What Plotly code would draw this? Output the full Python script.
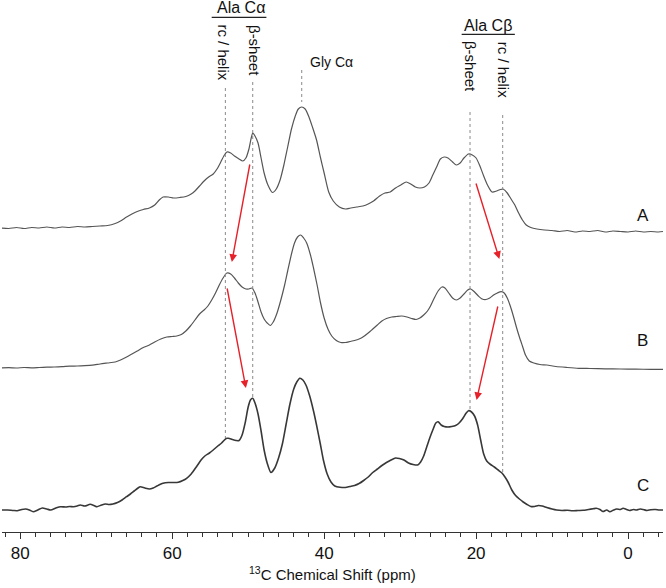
import plotly.graph_objects as go

# ---------------- data ----------------
ppm_A = [82.6, 81.5, 80.5, 79.5, 78.5, 77.5, 76.5, 75.5, 74.5, 73.5, 72.5, 71.5, 70.5, 69.5, 68.5,
         67.5, 66.8, 66.0, 65.3, 64.6, 63.8, 63.0, 62.3, 61.7, 61.2, 60.5, 59.8, 59.0, 58.2, 57.5,
         57.0, 56.4, 55.8, 55.2, 54.6, 54.1, 53.6, 53.2, 52.8, 52.3, 51.8, 51.2, 50.7, 50.3, 49.9,
         49.6, 49.4, 49.1, 48.7, 48.3, 47.9, 47.4, 46.8, 46.3, 45.8, 45.3, 44.8, 44.3, 43.8, 43.4,
         42.95, 42.5, 42.0, 41.5, 41.0, 40.5, 40.0, 39.4, 38.8, 38.0, 37.2, 36.5, 35.7, 34.9, 34.2,
         33.5, 32.7, 32.0, 31.3, 30.6, 29.9, 29.2, 28.6, 28.0, 27.4, 26.8, 26.2, 25.7, 25.2, 24.7,
         24.2, 23.7, 23.1, 22.6, 22.1, 21.6, 21.0, 20.5, 20.0, 19.5, 19.0, 18.5, 17.9, 17.3, 16.8,
         16.4, 15.9, 15.4, 14.9, 14.4, 13.9, 13.4, 12.8, 12.0, 11.0, 10.0, 9.0, 8.0, 7.0, 6.0,
         5.0, 4.0, 3.0, 2.0, 1.0, 0.0, -1.0, -2.0, -3.0, -4.0, -4.6]
int_A = [1, 0.5, 1.5, 0.5, 1.5, 1, 2, 1, 2, 1.5, 2.5, 2, 2.5, 3, 3.5,
         5.5, 8, 12, 15, 17.5, 19.5, 21, 24, 29, 32, 32, 31, 31.5, 32.5, 35,
         38, 43, 48, 52, 55, 60, 67, 73, 77, 76, 73, 70, 68, 71, 80,
         91, 96, 93, 86, 71, 56, 44, 36.5, 40, 49, 64, 82, 100, 113, 120,
         122, 120, 112, 101, 89, 72, 56, 37, 28, 22, 20, 21, 22, 23, 25,
         28, 33, 36, 37, 41, 44, 47, 45, 42, 41, 42, 46, 54, 62, 70,
         72, 71, 67, 64, 66, 71, 75, 74, 71, 63, 53, 44, 37, 38, 39.5,
         39.7, 36, 30, 24, 16, 9, 4, 1.5, 0, -1, -1.5, -2.5, -1.5, -3, -2,
         -2.5, -1.5, -3, -2, -2.5, -3, -2, -3, -2.5, -3, -2.5]

ppm_B = [82.6, 81.5, 80.5, 79.5, 78.5, 77.5, 76.5, 75.5, 74.5, 73.5, 72.5, 71.5, 70.5, 69.5, 68.5,
         67.5, 66.8, 66.0, 65.3, 64.6, 63.8, 63.0, 62.3, 61.5, 60.7, 60.0, 59.4, 58.8, 58.2, 57.6,
         57.0, 56.4, 55.8, 55.3, 54.8, 54.3, 53.8, 53.3, 52.8, 52.3, 51.8, 51.3, 50.8, 50.3, 49.9,
         49.5, 49.1, 48.7, 48.3, 47.9, 47.5, 47.1, 46.7, 46.2, 45.7, 45.2, 44.8, 44.3, 43.9, 43.5,
         43.1, 42.7, 42.3, 41.8, 41.4, 40.9, 40.5, 40.0, 39.5, 39.0, 38.4, 37.8, 37.2, 36.6, 36.0,
         35.4, 34.8, 34.2, 33.6, 33.0, 32.4, 31.8, 31.1, 30.5, 29.8, 29.1, 28.5, 27.9, 27.4, 26.9,
         26.4, 26.0, 25.5, 25.0, 24.5, 24.1, 23.6, 23.1, 22.6, 22.1, 21.6, 21.1, 20.7, 20.2, 19.7,
         19.2, 18.7, 18.2, 17.7, 17.2, 16.7, 16.3, 15.9, 15.5, 15.1, 14.7, 14.3, 13.9, 13.5, 13.0,
         12.4, 11.6, 10.7, 9.5, 8.0, 6.5, 5.0, 3.0, 1.0, -1.0, -3.0, -4.6]
int_B = [0, 0.3, 0, 0.5, 0.2, 0.5, 0.8, 1, 1.3, 1.8, 2, 2.3, 2.8, 4, 5,
         6, 8, 11, 14, 17, 20.5, 23, 26, 29, 31, 31.5, 32, 33.5, 37, 42,
         48, 54, 58, 62, 68, 75, 83, 90, 95, 94, 90, 85, 81, 79, 79,
         80, 75, 66, 56, 49, 45, 42.5, 46, 55, 68, 83, 97, 114, 125, 131,
         133, 130, 125, 113, 100, 82, 66, 50, 39, 32, 27.5, 25.5, 25.5, 26.5, 27.5,
         29, 31.5, 35, 39, 43, 47, 49.5, 51, 51.5, 52, 51, 49.5, 48.5, 50, 53,
         57, 62, 70, 77, 81, 80, 75, 70, 68, 70, 74, 78, 79, 76, 72,
         69, 68.5, 70, 73, 75, 76.3, 75, 70, 62, 52, 41, 31, 22, 13, 7,
         5, 3.5, 3, 1.5, 0.5, -0.3, -0.5, -0.8, -1, -1.2, -1.3, -1.3]

ppm_C = [82.6, 81.7, 80.9, 80.4, 79.8, 79.3, 78.8, 78.3, 77.7, 77.1, 76.5, 76.0, 75.3, 74.7, 74.0,
         73.5, 73.0, 72.5, 72.1, 71.5, 70.8, 70.3, 69.9, 69.3, 68.8, 68.3, 67.8, 67.2, 66.6, 66.0,
         65.5, 65.0, 64.5, 64.2, 63.6, 63.0, 62.5, 62.0, 61.2, 60.5, 59.8, 59.2, 58.6, 58.1, 57.5,
         56.8, 56.2, 55.7, 55.1, 54.6, 54.0, 53.5, 52.9, 52.6, 52.1, 51.6, 51.2, 50.8, 50.4, 50.0,
         49.7, 49.4, 49.1, 48.7, 48.3, 47.9, 47.5, 47.0, 46.5, 46.0, 45.5, 45.0, 44.5, 44.0, 43.6,
         43.2, 42.8, 42.4, 41.9, 41.4, 41.0, 40.5, 40.1, 39.6, 39.1, 38.6, 37.9, 37.2, 36.6, 36.0,
         35.4, 34.8, 34.2, 33.6, 33.0, 32.4, 31.8, 31.2, 30.6, 30.1, 29.5, 28.9, 28.3, 27.7, 27.3,
         26.9, 26.5, 26.1, 25.7, 25.3, 25.0, 24.6, 24.2, 23.7, 23.2, 22.7, 22.3, 21.8, 21.3, 21.0,
         20.6, 20.2, 19.8, 19.4, 19.0, 18.6, 18.1, 17.6, 17.1, 16.6, 16.2, 15.8, 15.3, 14.8, 14.3,
         13.8, 13.3, 12.8, 12.3, 11.8, 11.3, 10.7, 10.0, 9.4, 8.7, 8.0, 7.3, 6.6, 5.9, 5.2,
         4.6, 4.2, 3.7, 3.3, 2.8, 2.4, 1.9, 1.5, 1.0, 0.66, 0.2, -0.2, -0.7, -1.1, -1.6,
         -2.0, -2.5, -3.0, -3.6, -4.1, -4.6]
int_C = [0, 0, -0.5, -0.7, 0.5, 1, 0, -1.7, 0, 2, 1, 0, 2, 3.3, 3,
         3.5, 3.3, 4, 5, 4, 5.7, 4.5, 3.3, 5, 6, 5.5, 6, 7.5, 10, 13.3,
         16, 19, 22, 23.3, 22, 21, 22, 24, 26.7, 27.5, 27.5, 27.8, 29.5, 31.7, 36,
         43.3, 50, 54, 57, 60, 64, 67, 71.5, 71.7, 70.5, 69.5, 69.5, 75, 87, 103,
         110, 111.7, 107, 96, 79, 60, 47, 37.5, 42, 52, 66, 86, 106, 121, 128,
         131.7, 130, 125, 114, 99, 85, 66, 50, 36, 28, 24, 22.7, 22.5, 23.5, 24.5,
         26.5, 29.5, 33, 37.5, 41, 44.5, 47.5, 50, 52, 51.5, 50, 47, 45.5, 45, 48,
         54, 63, 72, 80, 87, 88.3, 85, 83.5, 83, 83.5, 84.5, 86.5, 91, 97, 99.3,
         98, 94, 85, 70, 56, 49, 45.5, 43, 40, 37, 33, 28, 20, 14.5, 11,
         8, 5.5, 3.5, 3.5, 4.5, 4, 2.5, 1, 0, -0.5, -0.3, -0.8, -0.5, -0.3, 0.5,
         1.2, 1.7, 0.5, -1.5, 0, -1.7, 0, 1, 0.5, 1.7, 0.5, -0.5, 0.5, 0, 1,
         0.5, -0.5, 0.3, 0.5, 0, 0]

spectrum_labels = ["A", "B", "C"]

# peak assignments (ppm)
assign_ppm = [53.0, 49.4, 42.95, 20.8, 16.5]
assign_text = ["rc / helix", "β-sheet", "Gly Cα", "β-sheet", "rc / helix"]
group_text = ["Ala Cα", "Ala Cβ"]

tick_vals = [80, 60, 40, 20, 0]
tick_text = ["80", "60", "40", "20", "0"]
x_title = "<sup>13</sup>C Chemical Shift (ppm)"

# ---------------- layout constants ----------------
OFFSETS = {"A": 281, "B": 142, "C": 0}
FONT = "Liberation Sans, Arial, sans-serif"
RED = "#e62129"

fig = go.Figure()
spec = {"A": (ppm_A, int_A), "B": (ppm_B, int_B), "C": (ppm_C, int_C)}
styles = {"A": ("#555555", 1.2), "B": ("#555555", 1.2), "C": ("#383838", 1.6)}
for lab in spectrum_labels:
    px, iy = spec[lab]
    col, w = styles[lab]
    fig.add_trace(go.Scatter(
        x=px, y=[v + OFFSETS[lab] for v in iy], mode="lines",
        line=dict(color=col, width=w, shape="spline", smoothing=0.7),
        showlegend=False, hoverinfo="skip"))

# dotted assignment lines (top, bottom in y-units)
line_y = [(422, 72), (428, 113), (440, 408), (398, 100), (395, 37)]
for p, (y0, y1) in zip(assign_ppm, line_y):
    fig.add_shape(type="line", x0=p, x1=p, y0=y0, y1=y1, xref="x", yref="y",
                  line=dict(color="#8a8a8a", width=1, dash="dot"))

# group underlines
fig.add_shape(type="line", x0=54.8, x1=47.6, y0=492.7, y1=492.7, xref="x", yref="y",
              line=dict(color="#222", width=1.2))
fig.add_shape(type="line", x0=21.9, x1=14.9, y0=475.7, y1=475.7, xref="x", yref="y",
              line=dict(color="#222", width=1.2))

ann = []
ann.append(dict(x=50.9, y=502.7, text=group_text[0], showarrow=False,
                font=dict(family=FONT, size=16, color="#111")))
ann.append(dict(x=18.4, y=485, text=group_text[1], showarrow=False,
                font=dict(family=FONT, size=16, color="#111")))
vert_pos = [(53.3, 457.5), (49.1, 460), None, (20.7, 443.3), (16.3, 440)]
for t, vp in zip(assign_text, vert_pos):
    if vp is None:
        continue
    ann.append(dict(x=vp[0], y=vp[1], text=t, textangle=90, showarrow=False,
                    font=dict(family=FONT, size=15, color="#111")))
ann.append(dict(x=39.0, y=448.3, text=assign_text[2], showarrow=False,
                font=dict(family=FONT, size=14, color="#111")))

for lab, yv in zip(spectrum_labels, [295, 170, 25]):
    ann.append(dict(x=-1.95, y=yv, text=lab, showarrow=False,
                    font=dict(family=FONT, size=17, color="#111")))

# red arrows: (tail ppm, tail y, head ppm, head y)
arrows = [(49.75, 347, 52.15, 248), (52.8, 223, 50.3, 122),
          (20.07, 328, 16.94, 251), (17.1, 205, 19.94, 110)]
for tx, ty, hx, hy in arrows:
    ann.append(dict(x=hx, y=hy, ax=tx, ay=ty, xref="x", yref="y", axref="x", ayref="y",
                    showarrow=True, arrowhead=2, arrowsize=1.1, arrowwidth=1.4,
                    arrowcolor=RED, text=""))

# x-axis title as annotation, kept inside the page
ann.append(dict(x=0.5, y=0, xref="paper", yref="paper", xanchor="center", yanchor="bottom",
                yshift=-53, text=x_title, showarrow=False,
                font=dict(family=FONT, size=15, color="#111")))

fig.update_layout(
    width=666, height=588,
    margin=dict(l=2, r=3, t=0, b=56),
    paper_bgcolor="white", plot_bgcolor="white",
    annotations=ann,
    xaxis=dict(range=[82.4, -4.6], showgrid=False, zeroline=False,
               showline=True, linecolor="#333", linewidth=1,
               ticks="outside", ticklen=6, tickcolor="#333", tickwidth=1,
               tickvals=tick_vals, ticktext=tick_text,
               tickfont=dict(family=FONT, size=17, color="#111"),
               minor=dict(dtick=2, ticks="outside", ticklen=4, tickcolor="#333")),
    yaxis=dict(range=[-22, 510], visible=False),
)

fig.write_html("out.html", config={"displayModeBar": False},
               post_script="document.body.style.margin='0';document.body.style.padding='0';"
                           "document.documentElement.style.overflow='hidden';")
